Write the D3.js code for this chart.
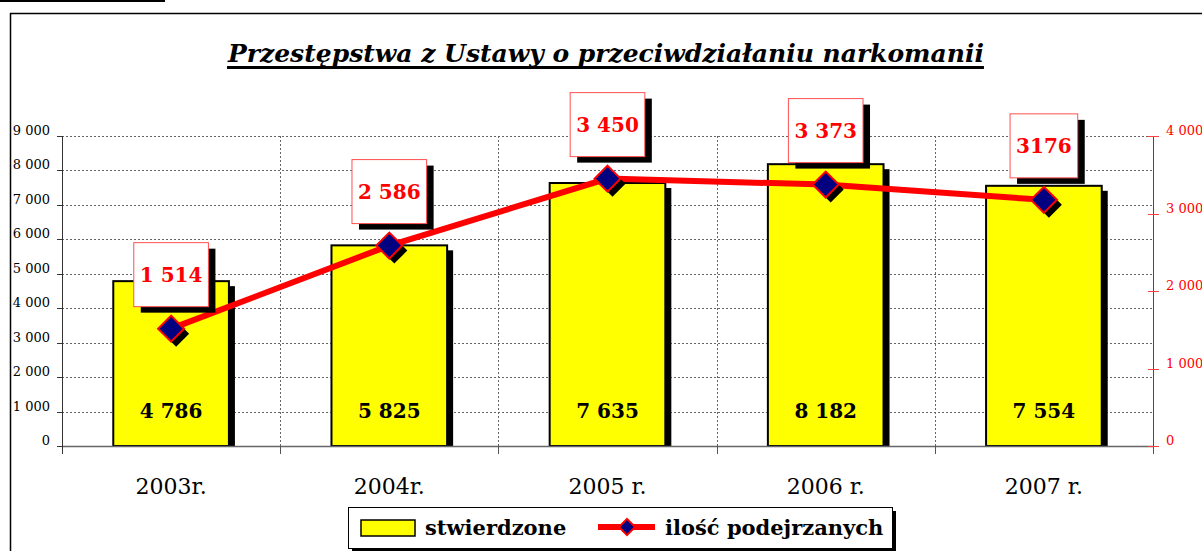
<!DOCTYPE html>
<html><head><meta charset="utf-8">
<script src="https://cdn.jsdelivr.net/npm/d3@7"></script>
<style>html,body{margin:0;padding:0;background:#fff;}svg{display:block;}</style>
</head><body>
<svg id="c" width="1202" height="551"></svg>
<script>
const categories = ["2003r.", "2004r.", "2005 r.", "2006 r.", "2007 r."];
const stwierdzone = [4786, 5825, 7635, 8182, 7554];
const podejrzani = [1514, 2586, 3450, 3373, 3176];
const barLabels = ["4 786", "5 825", "7 635", "8 182", "7 554"];
const lineLabels = ["1 514", "2 586", "3 450", "3 373", "3176"];
const leftTicks = [0, 1000, 2000, 3000, 4000, 5000, 6000, 7000, 8000, 9000];
const rightTicks = [0, 1000, 2000, 3000, 4000];
const titleText = "Przestępstwa z Ustawy o przeciwdziałaniu narkomanii";
const legendLabels = ["stwierdzone", "ilość podejrzanych"];

const FONT = "'DejaVu Serif', serif";
const svg = d3.select("#c");
const X0 = 62, X1 = 1153, Y0 = 446, YT = 136;
const fmt = v => v === 0 ? "0" : d3.format(",")(v).replace(/,/g, " ");

const x = d3.scaleBand().domain(categories).range([X0, X1]).padding(0);
const yL = d3.scaleLinear().domain([0, 9000]).range([Y0, YT]);
const yR = d3.scaleLinear().domain([0, 4000]).range([Y0, YT]);
const barW = x.bandwidth() * 0.53;
const cx = c => x(c) + x.bandwidth() / 2;

// frame
svg.append("line").attr("x1", 10).attr("x2", 1202).attr("y1", 13.5).attr("y2", 13.5).attr("stroke", "#000").attr("stroke-width", 1.5);
svg.append("line").attr("x1", 10.5).attr("x2", 10.5).attr("y1", 13).attr("y2", 551).attr("stroke", "#000").attr("stroke-width", 1.5);
svg.append("line").attr("x1", 0).attr("x2", 165).attr("y1", 1).attr("y2", 1).attr("stroke", "#000").attr("stroke-width", 2);

// title
const title = svg.append("text").attr("x", 606).attr("y", 62).attr("text-anchor", "middle")
  .attr("font-family", FONT).attr("font-style", "italic").attr("font-weight", "bold")
  .attr("font-size", 25).attr("fill", "#000").text(titleText);
const tb = title.node().getBBox();
svg.append("rect").attr("x", tb.x).attr("y", 66).attr("width", tb.width).attr("height", 3).attr("fill", "#000");

// gridlines
const g = svg.append("g");
g.selectAll(".hg").data(leftTicks.filter(d => d > 0)).join("line")
  .attr("x1", X0).attr("x2", X1).attr("y1", d => Math.round(yL(d)) + 0.5).attr("y2", d => Math.round(yL(d)) + 0.5)
  .attr("stroke", "#666").attr("stroke-dasharray", "2,2");
g.selectAll(".vg").data(categories.slice(1)).join("line")
  .attr("x1", d => Math.round(x(d)) + 0.5).attr("x2", d => Math.round(x(d)) + 0.5).attr("y1", YT).attr("y2", Y0)
  .attr("stroke", "#666").attr("stroke-dasharray", "2,2");

// bars
const bars = svg.append("g");
bars.selectAll(".bs").data(stwierdzone).join("rect")
  .attr("x", (d, i) => cx(categories[i]) - barW / 2 + 6).attr("y", d => yL(d) + 5)
  .attr("width", barW).attr("height", d => Y0 - yL(d) - 5).attr("fill", "#000");
bars.selectAll(".b").data(stwierdzone).join("rect")
  .attr("x", (d, i) => cx(categories[i]) - barW / 2).attr("y", d => yL(d))
  .attr("width", barW).attr("height", d => Y0 - yL(d))
  .attr("fill", "#ffff00").attr("stroke", "#000").attr("stroke-width", 2);
bars.selectAll(".bl").data(barLabels).join("text")
  .attr("x", (d, i) => cx(categories[i])).attr("y", 418).attr("text-anchor", "middle")
  .attr("font-family", FONT).attr("font-weight", "bold").attr("font-size", 20).attr("fill", "#000").text(d => d);

// x axis
svg.append("line").attr("x1", X0).attr("x2", X1).attr("y1", Y0 + 0.5).attr("y2", Y0 + 0.5).attr("stroke", "#666").attr("stroke-width", 1.5);
svg.selectAll(".xt").data(categories.slice(1).map(c => x(c)).concat([X1])).join("line")
  .attr("x1", d => Math.round(d) + 0.5).attr("x2", d => Math.round(d) + 0.5).attr("y1", Y0).attr("y2", Y0 + 8).attr("stroke", "#555");
svg.selectAll(".xl").data(categories).join("text")
  .attr("x", d => cx(d)).attr("y", 494).attr("text-anchor", "middle")
  .attr("font-family", FONT).attr("font-size", 22).attr("fill", "#000").text(d => d);

// left axis
svg.append("line").attr("x1", X0 + 0.5).attr("x2", X0 + 0.5).attr("y1", YT).attr("y2", Y0 + 8).attr("stroke", "#333");
svg.selectAll(".lt").data(leftTicks).join("line")
  .attr("x1", X0 - 5).attr("x2", X0).attr("y1", d => Math.round(yL(d)) + 0.5).attr("y2", d => Math.round(yL(d)) + 0.5).attr("stroke", "#333");
svg.selectAll(".ll").data(leftTicks).join("text")
  .attr("x", 50).attr("y", d => yL(d) - 1).attr("text-anchor", "end")
  .attr("font-family", FONT).attr("font-size", 13).attr("fill", "#000").text(d => fmt(d));

// right axis
svg.append("line").attr("x1", X1 + 0.5).attr("x2", X1 + 0.5).attr("y1", YT).attr("y2", Y0).attr("stroke", "#ff0000");
svg.selectAll(".rt").data(rightTicks).join("line")
  .attr("x1", X1 - 5).attr("x2", X1 + 6).attr("y1", d => Math.round(yR(d)) + 0.5).attr("y2", d => Math.round(yR(d)) + 0.5).attr("stroke", "#ff4040");
svg.selectAll(".rl").data(rightTicks).join("text")
  .attr("x", 1166).attr("y", d => yR(d) - 1)
  .attr("font-family", FONT).attr("font-size", 13).attr("fill", "#ff0000").text(d => fmt(d));

// line
const pts = podejrzani.map((v, i) => [cx(categories[i]), yR(v)]);
svg.append("path").attr("d", d3.line()(pts)).attr("fill", "none").attr("stroke", "#ff0000").attr("stroke-width", 6);
const diamond = d3.symbol().type(d3.symbolSquare).size(338)();
svg.selectAll(".ds").data(pts).join("path").attr("d", diamond)
  .attr("transform", d => `translate(${d[0] + 5},${d[1] + 5}) rotate(45)`).attr("fill", "#000");
svg.selectAll(".d").data(pts).join("path").attr("d", diamond)
  .attr("transform", d => `translate(${d[0]},${d[1]}) rotate(45)`)
  .attr("fill", "#000080").attr("stroke", "#ff0000").attr("stroke-width", 2);

// value boxes
const lb = svg.append("g");
lineLabels.forEach((t, i) => {
  const px = pts[i][0], py = pts[i][1];
  const gg = lb.append("g");
  const shadow = gg.append("rect").attr("fill", "#000");
  const box = gg.append("rect").attr("fill", "#fff").attr("stroke", "#ff5050").attr("stroke-width", 1);
  const tx = gg.append("text").attr("x", px).attr("y", py - 22 - 32 + 7).attr("text-anchor", "middle")
    .attr("font-family", FONT).attr("font-weight", "bold").attr("font-size", 20).attr("fill", "#ff0000").text(t);
  const w = tx.node().getComputedTextLength() + 12;
  box.attr("x", px - w / 2).attr("y", py - 22 - 64).attr("width", w).attr("height", 64);
  shadow.attr("x", px - w / 2 + 7).attr("y", py - 22 - 64 + 6).attr("width", w).attr("height", 64);
});

// legend
const L = svg.append("g");
L.append("rect").attr("x", 352).attr("y", 511).attr("width", 544).attr("height", 41).attr("fill", "#000");
L.append("rect").attr("x", 348.5).attr("y", 507.5).attr("width", 544).attr("height", 41).attr("fill", "#fff").attr("stroke", "#000").attr("stroke-width", 1);
L.append("rect").attr("x", 361).attr("y", 520).attr("width", 54).attr("height", 16).attr("fill", "#ffff00").attr("stroke", "#000").attr("stroke-width", 1.5);
L.append("text").attr("x", 425).attr("y", 535).attr("font-family", FONT).attr("font-weight", "bold").attr("font-size", 21).text(legendLabels[0]);
L.append("line").attr("x1", 598).attr("x2", 655).attr("y1", 527).attr("y2", 527).attr("stroke", "#ff0000").attr("stroke-width", 6);
L.append("path").attr("d", d3.symbol().type(d3.symbolSquare).size(130)()).attr("transform", "translate(627,527) rotate(45)")
  .attr("fill", "#000080").attr("stroke", "#ff0000").attr("stroke-width", 2);
L.append("text").attr("x", 665).attr("y", 535).attr("font-family", FONT).attr("font-weight", "bold").attr("font-size", 21).text(legendLabels[1]);
</script>
</body></html>
